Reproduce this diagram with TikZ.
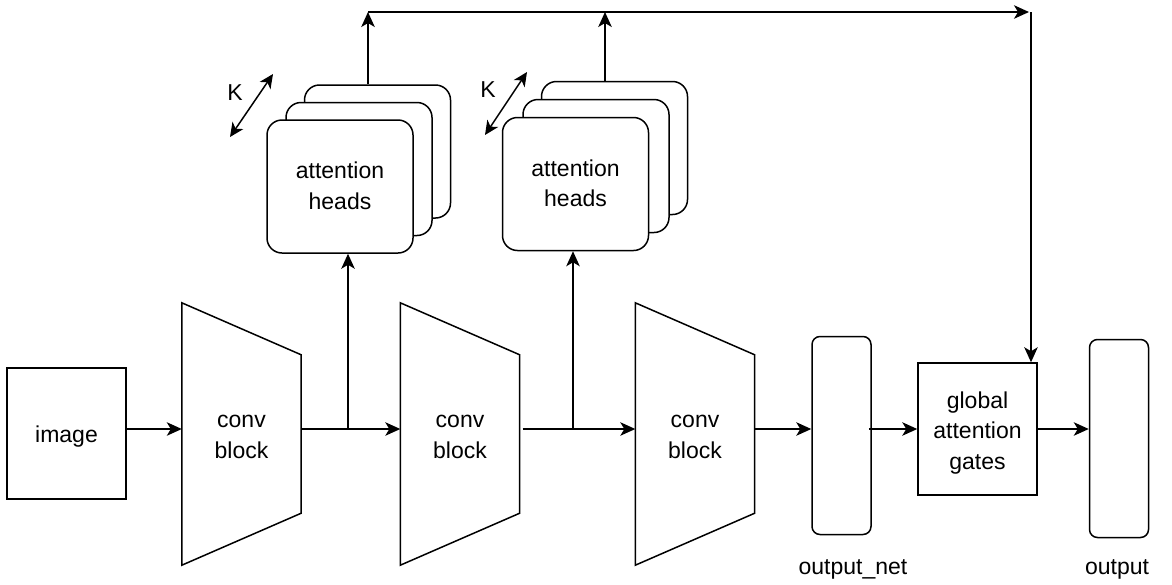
\documentclass[tikz,border=0pt]{standalone}
\usepackage{fontspec}
\setmainfont{Liberation Sans}
\usetikzlibrary{arrows.meta,calc}
\begin{document}
\begin{tikzpicture}[x=1pt,y=-1pt,
  every node/.style={font=\fontsize{23}{30.5}\selectfont, align=center, inner sep=0pt},
  ln/.style={line width=1.5pt, line join=miter},
  tip/.style={Stealth[length=15pt,width=13.5pt,inset=4pt]},
  arr/.style={ln, -{Stealth[length=15pt,width=13.5pt,inset=4pt]}},
  darr/.style={ln, {Stealth[length=14pt,width=13pt,inset=4pt]}-{Stealth[length=14pt,width=13pt,inset=4pt]}},
  box/.style={draw, ln, fill=white, rectangle},
  card/.style={draw, ln, fill=white, rectangle, rounded corners=15pt, minimum width=146pt, minimum height=133pt},
  slim/.style={draw, ln, fill=white, rectangle, rounded corners=8pt, minimum width=59pt, minimum height=198pt},
  convshape/.style={rectangle, minimum width=119pt, minimum height=262pt}
]
\useasboundingbox (0,0) rectangle (1172,584);

\coordinate (r) at (0,429);

% image
\node[box, minimum width=119pt, minimum height=131pt] (image) at (66.5,433.5) {};
\node (imagetxt) at ([yshift=-3.5pt]image.center) {image};

% conv blocks
\node[convshape] (conv1) at (241.5,434) {};
\node[convshape] (conv2) at (460,434) {};
\node[convshape] (conv3) at (695,434) {};
\foreach \c in {conv1,conv2,conv3}{
  \draw[ln] (\c.north west) -- ([yshift=-52pt]\c.north east) -- ([yshift=52pt]\c.south east) -- (\c.south west) -- cycle;
  \node (\c txt) at ([yshift=-3pt]\c.center) {conv\\block};
}

% attention head stacks
\node[card] (ah1c) at (377.5,151.5) {};
\node[card] (ah1b) at (359,169) {};
\node[card] (ah1) at (340,186.5) {};
\node (ah1txt) at ([yshift=0.5pt]ah1.center) {attention\\heads};

\node[card] (ah2c) at (614.5,148) {};
\node[card] (ah2b) at (596,166) {};
\node[card] (ah2) at (575.5,184) {};
\node (ah2txt) at ([yshift=0.5pt]ah2.center) {attention\\heads};

% right side
\node[slim] (onet) at (841.5,435.5) {};
\node[box, minimum width=119pt, minimum height=132pt] (gates) at (977.5,429) {};
\node (gatestxt) at ([yshift=-4pt]gates.center) {global\\attention\\gates};
\node[slim] (out) at (1119,438.5) {};
\node (onetlbl) at (853,569) {output\_net};
\node (outlbl) at (1117,569) {output};

% horizontal flow
\coordinate (b1) at (348,429);
\coordinate (b2) at (573,429);
\draw[arr] (image.east |- r) -- (conv1.west |- r);
\draw[arr] (conv1.east |- r) -- (conv2.west |- r);
\draw[arr] ([xshift=3pt]conv2.east |- r) -- (conv3.west |- r);
\draw[arr] (conv3.east |- r) -- (onet.west |- r);
\draw[arr] ([xshift=-3pt]onet.east |- r) -- (gates.west |- r);
\draw[arr] (gates.east |- r) -- (out.west |- r);

% up to attention heads
\draw[arr] (b1) -- (b1 |- ah1.south);
\draw[arr] (b2) -- (b2 |- ah2.south);

% top routing
\coordinate (tl) at (368,12);
\coordinate (t2) at (605,12);
\coordinate (tr) at (1031,12);
\draw[arr] (tl |- ah1c.north) -- (tl);
\draw[arr] (t2 |- ah2c.north) -- (t2);
\draw[arr] (tl) -- ([xshift=-2pt]tr);
\draw[arr] (tr) -- (tr |- gates.north);

% K arrows
\coordinate (k1a) at (230,137);
\coordinate (k1b) at (273,74);
\coordinate (k2a) at (485,135);
\coordinate (k2b) at (527,72);
\draw[darr] (k1a) -- (k1b);
\draw[darr] (k2a) -- (k2b);
\node (K1) at (235,93) {K};
\node (K2) at (488,90) {K};
\end{tikzpicture}
\end{document}
